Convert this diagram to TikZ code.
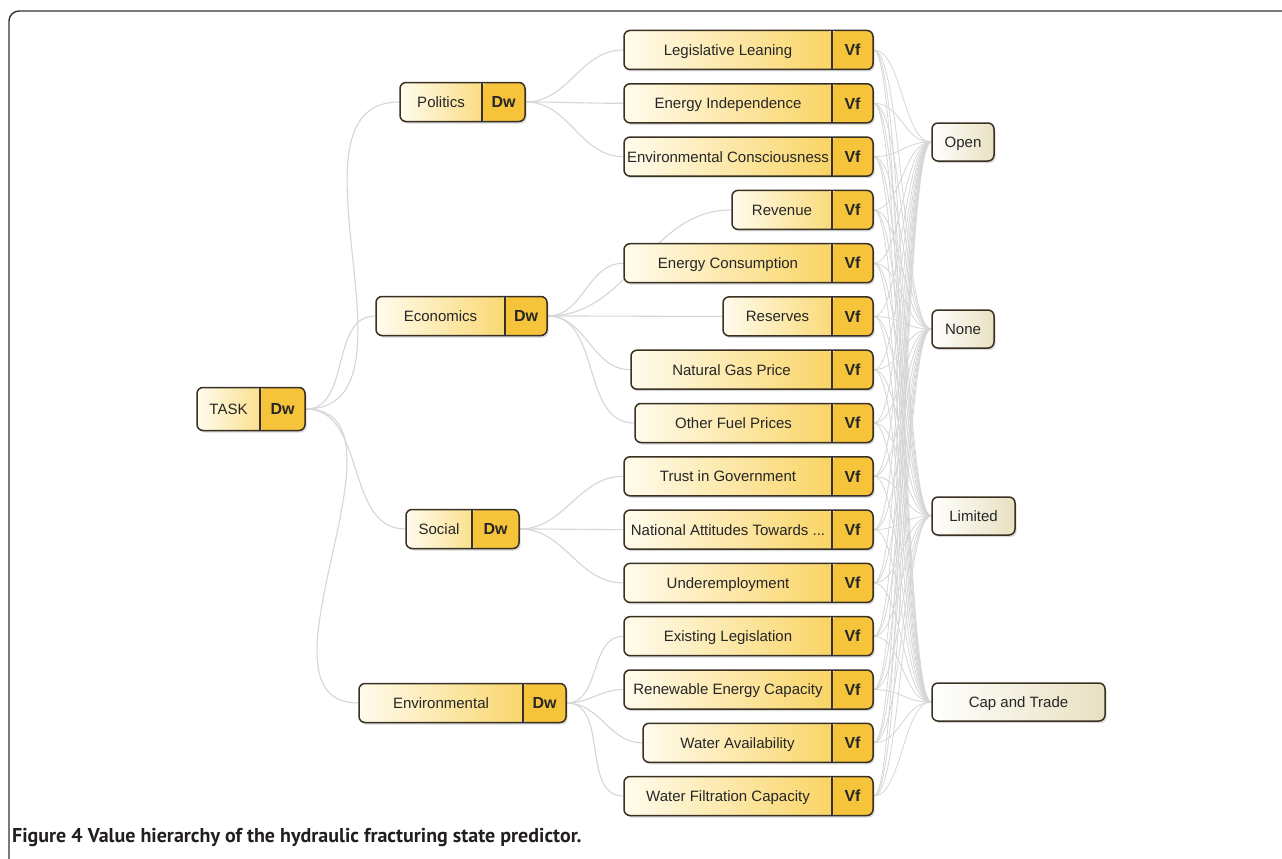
\documentclass[tikz,border=0pt]{standalone}
\usepackage{fontspec}
\setmainfont{Liberation Sans}
\newfontfamily\capfont{PT Sans}
\pgfdeclarelayer{bg}
\pgfsetlayers{bg,main}
\definecolor{bord}{HTML}{3A3022}
\definecolor{cream}{HTML}{FFFCEE}
\definecolor{gold}{HTML}{F6C43A}
\definecolor{goldl}{HTML}{F8CC4A}
\definecolor{linkc}{HTML}{D6D6D6}
\definecolor{beige}{HTML}{E8E0C0}
\definecolor{frame}{HTML}{333333}
\definecolor{captxt}{HTML}{231F20}
\newcommand\cw{40}
\tikzset{
 twob/.style={draw=bord, line width=1.5pt, rounded corners=6pt, minimum height=39pt, inner sep=0pt,
   path picture={
     \shade[left color=cream, right color=goldl] (path picture bounding box.south west) rectangle ([xshift=-\cw pt]path picture bounding box.north east);
     \fill[gold] ([xshift=-\cw pt]path picture bounding box.north east) rectangle (path picture bounding box.south east);
     \draw[bord, line width=1.2pt] ([xshift=-\cw pt]path picture bounding box.north east) -- ([xshift=-\cw pt]path picture bounding box.south east);
   }},
 shad/.style={fill=black, opacity=0.15, rounded corners=6pt},
 lbl/.style={inner sep=0pt, text height=10.8pt, text depth=0pt, font=\fontsize{15}{18}\selectfont, text=black!85},
 codet/.style={inner sep=0pt, text height=11.5pt, text depth=0pt, font=\bfseries\fontsize{16}{18}\selectfont, text=black!85},
 statebox/.style={draw=bord, line width=1.5pt, rounded corners=6pt, minimum height=38pt, inner sep=0pt,
   text height=10.8pt, text depth=0pt,
   left color=white, right color=beige, font=\fontsize{15}{18}\selectfont, text=black!85},
 link/.style={draw=linkc, line width=1.1pt},
}
% name, xleft, xright, y, label, code, codewidth, height
\newcommand\mkpair[8]{\renewcommand\cw{#7}%
 \fill[shad] ({(#2)+1.5},{(#4)-(#8)/2+2}) rectangle ({(#3)+1.5},{(#4)+(#8)/2+2});
 \node[twob, minimum width={(#3)-(#2)}, minimum height=#8pt] (#1) at ({((#2)+(#3))/2}, #4) {};
 \node[lbl] (#1-l) at ({((#2)+(#3)-(#7))/2}, #4) {#5};
 \node[codet] (#1-c) at ({(#3)-(#7)/2}, #4) {#6};}
\newcommand\mkstate[5]{%
 \fill[shad] ({(#2)+1.5},{(#4)-19+2}) rectangle ({(#3)+1.5},{(#4)+19+2});
 \node[statebox, minimum width={(#3)-(#2)}] (#1) at ({((#2)+(#3))/2}, #4) {#5};}
\begin{document}
\begin{tikzpicture}[x=1pt,y=-1pt]
\useasboundingbox (0,0) rectangle (1282,859);
\begin{pgfonlayer}{bg}
\fill[white] (0,0) rectangle (1282,859);
\end{pgfonlayer}
\draw[frame, line width=1.4pt, rounded corners=10pt] (9,880) -- (9,11) -- (1300,11);

% root and criteria
\mkpair{task}{197}{305}{409}{TASK}{Dw}{45}{43}
\mkpair{pol}{400}{525}{102}{Politics}{Dw}{43}{39}
\mkpair{eco}{376}{547}{316}{Economics}{Dw}{42}{39}
\mkpair{soc}{406}{519}{529}{Social}{Dw}{47}{39}
\mkpair{env}{359}{566}{703}{Environmental}{Dw}{43}{39}

% leaf value functions
\mkpair{ll}{624}{873}{50}{Legislative Leaning}{Vf}{41}{39}
\mkpair{ei}{624}{873}{103.3}{Energy Independence}{Vf}{41}{39}
\mkpair{ecn}{624}{873}{156.6}{Environmental Consciousness}{Vf}{41}{39}
\mkpair{rev}{732}{873}{209.9}{Revenue}{Vf}{41}{39}
\mkpair{eng}{624}{873}{263.2}{Energy Consumption}{Vf}{41}{39}
\mkpair{res}{723}{873}{316.4}{Reserves}{Vf}{41}{39}
\mkpair{ngp}{631}{873}{369.7}{Natural Gas Price}{Vf}{41}{39}
\mkpair{ofp}{635}{873}{423}{Other Fuel Prices}{Vf}{41}{39}
\mkpair{tig}{624}{873}{476.3}{Trust in Government}{Vf}{41}{39}
\mkpair{nat}{624}{873}{529.6}{National Attitudes Towards ...}{Vf}{41}{39}
\mkpair{und}{624}{873}{582.9}{Underemployment}{Vf}{41}{39}
\mkpair{exl}{624}{873}{636.2}{Existing Legislation}{Vf}{41}{39}
\mkpair{rec}{624}{873}{689.5}{Renewable Energy Capacity}{Vf}{41}{39}
\mkpair{wav}{643}{873}{742.8}{Water Availability}{Vf}{41}{39}
\mkpair{wfc}{624}{873}{796}{Water Filtration Capacity}{Vf}{41}{39}

% states
\mkstate{open}{932}{994}{142}{Open}
\mkstate{none}{932}{994}{329}{None}
\mkstate{lim}{932}{1015}{516}{Limited}
\mkstate{cap}{932}{1105}{702}{Cap and Trade}

\begin{pgfonlayer}{bg}
\foreach \c in {pol,eco,soc,env} \draw[link] (task.east) to[out=0,in=180] (\c.west);
\foreach \c in {ll,ei,ecn} \draw[link] (pol.east) to[out=0,in=180] (\c.west);
\foreach \c in {rev,eng,res,ngp,ofp} \draw[link] (eco.east) to[out=0,in=180] (\c.west);
\foreach \c in {tig,nat,und} \draw[link] (soc.east) to[out=0,in=180] (\c.west);
\foreach \c in {exl,rec,wav,wfc} \draw[link] (env.east) to[out=0,in=180] (\c.west);
\foreach \v in {ll,ei,ecn,rev,eng,res,ngp,ofp,tig,nat,und,exl,rec,wav,wfc}
  \foreach \s in {open,none,lim,cap}
    \draw[link, line width=0.8pt] (\v.east) .. controls +(28,0) and +(-28,0) .. (\s.west);
\end{pgfonlayer}

\node[anchor=west, inner sep=0pt, text=captxt, font=\capfont\bfseries\fontsize{20}{24}\selectfont] (caption) at (12,838) {Figure 4 Value hierarchy of the hydraulic fracturing state predictor.};
\end{tikzpicture}
\end{document}
